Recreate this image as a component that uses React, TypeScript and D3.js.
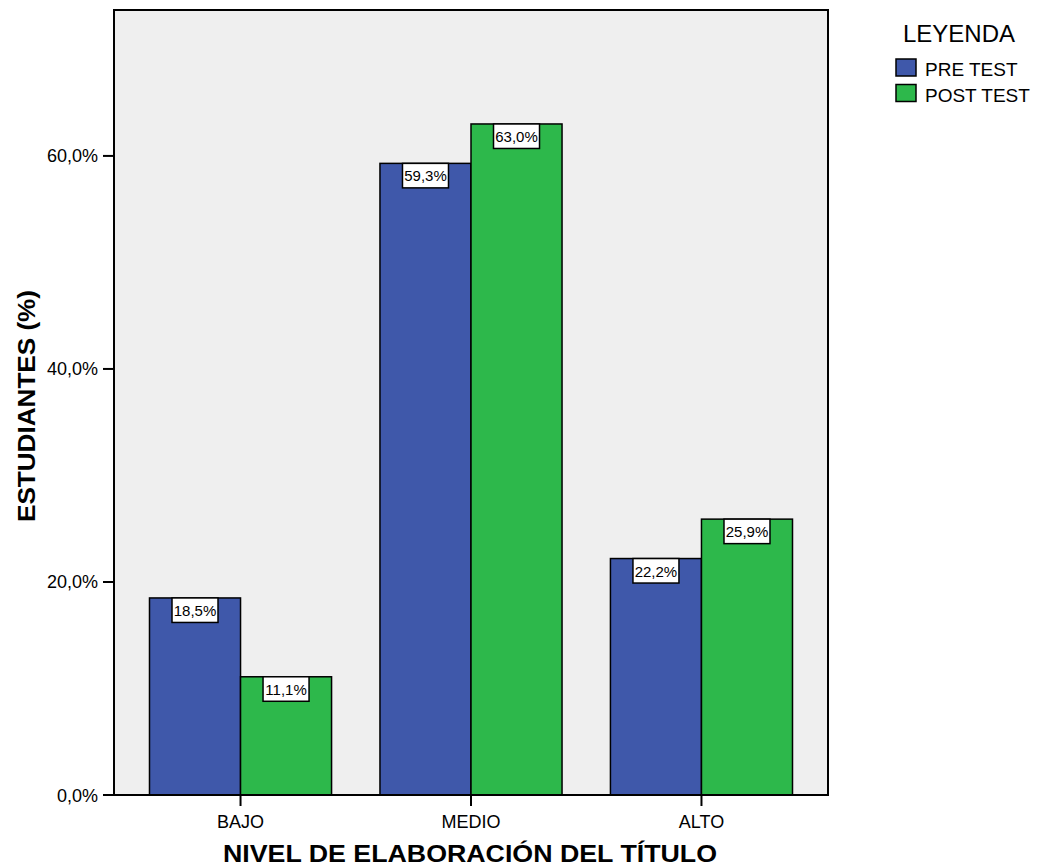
import React from "react";
import * as d3 from "d3";

const categories = ["BAJO", "MEDIO", "ALTO"];
const series = ["PRE TEST", "POST TEST"];
const preTest = [18.5, 59.3, 22.2];
const postTest = [11.1, 63.0, 25.9];
const yTicks = [0, 20, 40, 60];
const colors = ["#3f58aa", "#2db84b"];

const W = 1038, H = 868;
const left = 114, right = 828, top = 10, bottom = 795;
const FONT = "'Liberation Sans', Arial, sans-serif";

export default function App() {
  const y = d3.scaleLinear().domain([0, 73.7]).range([bottom, top]);
  const x0 = d3.scaleBand<string>().domain(categories).range([left, right]).paddingInner(0.21).paddingOuter(0.154);
  const x1 = d3.scaleBand<string>().domain(series).range([0, x0.bandwidth()]);
  const values = [preTest, postTest];
  const fmt = (v: number) => v.toFixed(1).replace(".", ",") + "%";

  return (
    <svg width={W} height={H} style={{ position: "absolute", left: 0, top: 0, fontFamily: FONT }}>
      <rect x={0} y={0} width={W} height={H} fill="#fff" />
      <rect x={left} y={top} width={right - left} height={bottom - top} fill="#efefef" />
      {categories.map((c, i) =>
        series.map((s, j) => {
          const v = values[j][i];
          const bx = (x0(c) as number) + (x1(s) as number);
          const bw = x1.bandwidth();
          return (
            <rect key={c + s} x={bx} y={y(v)} width={bw} height={bottom - y(v)} fill={colors[j]} stroke="#000" strokeWidth={1.5} />
          );
        })
      )}
      {categories.map((c, i) =>
        series.map((s, j) => {
          const v = values[j][i];
          const cx = (x0(c) as number) + (x1(s) as number) + x1.bandwidth() / 2;
          const by = y(v);
          return (
            <g key={"l" + c + s}>
              <rect x={cx - 23} y={by} width={46} height={24.5} fill="#fff" stroke="#000" strokeWidth={1.5} />
              <text x={cx} y={by + 18} textAnchor="middle" fontSize={15} fill="#000">{fmt(v)}</text>
            </g>
          );
        })
      )}
      <rect x={left} y={top} width={right - left} height={bottom - top} fill="none" stroke="#000" strokeWidth={2} />
      {yTicks.map((t) => (
        <g key={t}>
          <line x1={left - 11} x2={left} y1={y(t)} y2={y(t)} stroke="#000" strokeWidth={2} />
          <text x={left - 16} y={y(t) + 6.5} textAnchor="end" fontSize={18} fill="#000">{fmt(t)}</text>
        </g>
      ))}
      {categories.map((c) => {
        const cx = (x0(c) as number) + x0.bandwidth() / 2;
        return (
          <g key={"x" + c}>
            <line x1={cx} x2={cx} y1={bottom} y2={bottom + 11} stroke="#000" strokeWidth={2} />
            <text x={cx} y={bottom + 33} textAnchor="middle" fontSize={18} fill="#000">{c}</text>
          </g>
        );
      })}
      <text x={470} y={862} textAnchor="middle" fontSize={24} fontWeight="bold" fill="#000" textLength={494} lengthAdjust="spacingAndGlyphs">NIVEL DE ELABORACIÓN DEL TÍTULO</text>
      <text transform={`translate(35,406) rotate(-90)`} textAnchor="middle" fontSize={24} fontWeight="bold" fill="#000" textLength={232} lengthAdjust="spacingAndGlyphs">ESTUDIANTES (%)</text>
      <text x={959} y={42} textAnchor="middle" fontSize={23} fill="#000" textLength={112} lengthAdjust="spacingAndGlyphs">LEYENDA</text>
      {series.map((s, j) => (
        <g key={"lg" + s}>
          <rect x={896} y={59 + j * 25.5} width={20} height={17} fill={colors[j]} stroke="#000" strokeWidth={1.5} />
          <text x={925} y={76 + j * 26} fontSize={19} fill="#000">{s}</text>
        </g>
      ))}
    </svg>
  );
}
